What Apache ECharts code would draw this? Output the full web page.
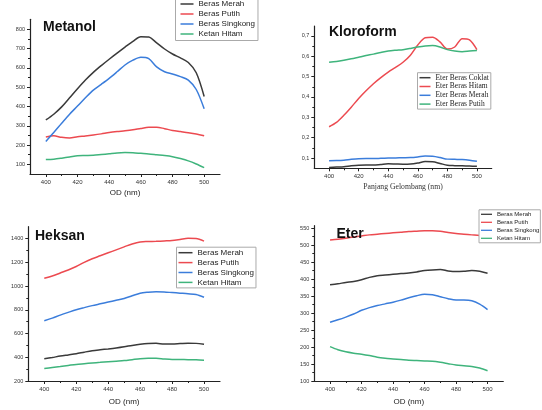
<!DOCTYPE html>
<html><head><meta charset="utf-8">
<script src="https://cdn.jsdelivr.net/npm/echarts@6/dist/echarts.min.js"></script>
<style>html,body{margin:0;padding:0;background:#fff}#c{width:542px;height:410px}</style>
</head><body><div id="c"></div>
<script>
// shared wavelength grid (nm) read every 5 nm
const waveX = [400,405,410,415,420,425,430,435,440,445,450,455,460,465,470,475,480,485,490,495,500];
// ---- Metanol ----
const metMerah    = [330,360,398,445,492,537,577,612,645,677,708,738,762,760,730,698,672,652,628,575,452];
const metPutih    = [242,248,240,237,243,247,252,258,265,270,274,279,286,292,293,285,276,270,264,257,248];
const metSingkong = [219,265,313,360,402,445,485,515,546,580,615,640,655,648,605,580,568,555,537,488,388];
const metKetan    = [125,127,132,138,145,146,147,151,155,159,161,160,157,154,150,146,140,130,118,102,83];
// ---- Kloroform ----
const klCoklat = [0.054,0.056,0.058,0.062,0.065,0.066,0.066,0.069,0.072,0.071,0.070,0.071,0.076,0.083,0.082,0.074,0.065,0.063,0.062,0.061,0.060];
const klHitam  = [0.254,0.275,0.310,0.350,0.392,0.430,0.465,0.495,0.522,0.545,0.570,0.605,0.655,0.690,0.693,0.670,0.635,0.645,0.686,0.680,0.632];
const klMerah  = [0.087,0.088,0.090,0.094,0.097,0.098,0.098,0.099,0.100,0.101,0.102,0.103,0.106,0.110,0.109,0.103,0.095,0.094,0.093,0.090,0.085];
const klPutih  = [0.570,0.574,0.580,0.587,0.595,0.603,0.610,0.618,0.625,0.629,0.632,0.638,0.645,0.650,0.652,0.645,0.632,0.625,0.622,0.625,0.628];
// ---- Heksan ----
const hkMerah    = [387,398,410,420,430,443,455,463,470,478,488,500,510,516,517,512,512,515,518,517,510];
const hkPutih    = [1065,1085,1110,1135,1165,1200,1230,1255,1280,1305,1330,1355,1372,1375,1377,1380,1383,1392,1402,1400,1378];
const hkSingkong = [708,730,755,778,800,818,835,850,865,880,895,918,940,948,952,950,945,940,935,928,905];
const hkKetan    = [306,314,322,331,340,346,352,357,362,367,372,380,388,391,391,386,382,381,380,378,375];
// ---- Eter ----
const etMerah    = [383,386,390,393,398,405,410,412,414,416,418,421,425,427,428,424,422,423,425,423,417];
const etPutih    = [515,517,520,524,527,530,532,534,536,538,540,541,542,542,541,537,534,532,530,528,525];
const etSingkong = [273,280,288,297,308,316,322,327,332,338,345,351,355,354,348,342,338,338,336,326,310];
const etKetan    = [201,192,186,182,179,175,170,167,165,163,161,160,159,158,155,151,147,145,143,138,130];
// ---- ticks ----
const xMajor = [400,420,440,460,480,500];
const xMinor = [410,430,450,470,490];
const metYMajor = [100,200,300,400,500,600,700,800];
const metYMinor = [150,250,350,450,550,650,750];
const klYMajor = [0.1,0.2,0.3,0.4,0.5,0.6,0.7];
const klYMinor = [0.15,0.25,0.35,0.45,0.55,0.65];
const hkYMajor = [200,400,600,800,1000,1200,1400];
const hkYMinor = [300,500,700,900,1100,1300];
const etYMajor = [100,150,200,250,300,350,400,450,500,550];
const etYMinor = [125,175,225,275,325,375,425,475,525];

const C = {black:'#3a3a3a', red:'#ec4a50', blue:'#3b7ddb', green:'#3fb47c'};
const SANS = '"Liberation Sans", Arial, sans-serif';
const SERIF = '"Liberation Serif", "Times New Roman", serif';

const grids = [
  {left:30, top:19.3, width:190, height:154.7},
  {left:314.3, top:26, width:177.4, height:142.3},
  {left:28.3, top:226.7, width:191.7, height:154.3},
  {left:314.3, top:225.7, width:189, height:155.3}
];
const yRanges = [[50,852],[0.05,0.748],[200,1500],[100,557]];
const yMaj = [metYMajor, klYMajor, hkYMajor, etYMajor];
const yMin = [metYMinor, klYMinor, hkYMinor, etYMinor];
const xNames = ['OD (nm)','Panjang Gelombang (nm)','OD (nm)','OD (nm)'];
const xNameGaps = [15,15,16.5,16.5];

const xAxes = [], yAxes = [];
for (let i=0;i<4;i++){
  const nameFont = i===1 ? {fontFamily:SERIF, fontSize:7.7, color:'#333'} : {fontFamily:SANS, fontSize:8, color:'#222'};
  xAxes.push({type:'value', gridIndex:i, position:'bottom', min:390, max:510,
    name:xNames[i], nameLocation:'middle', nameGap:xNameGaps[i], nameTextStyle:nameFont,
    axisLine:{show:true, lineStyle:{color:'#222', width:1.2}},
    axisTick:{show:true, length:3, customValues:xMajor, lineStyle:{color:'#222', width:1}},
    axisLabel:{show:true, customValues:xMajor, margin:5, fontSize:6, fontFamily:SANS, color:'#333'},
    splitLine:{show:false}});
  xAxes.push({type:'value', gridIndex:i, position:'bottom', min:390, max:510,
    axisLine:{show:false},
    axisTick:{show:true, length:2, customValues:xMinor, lineStyle:{color:'#222', width:1}},
    axisLabel:{show:false}, splitLine:{show:false}});
  yAxes.push({type:'value', gridIndex:i, position:'left', min:yRanges[i][0], max:yRanges[i][1],
    axisLine:{show:true, lineStyle:{color:'#222', width:1.2}},
    axisTick:{show:true, length:3, customValues:yMaj[i], lineStyle:{color:'#222', width:1}},
    axisLabel:{show:true, customValues:yMaj[i], margin:5, fontSize:5.5, fontFamily:SANS, color:'#333',
      formatter: i===1 ? (v)=>v.toFixed(1).replace('.', ',') : (v)=>String(Math.round(v))},
    splitLine:{show:false}});
  yAxes.push({type:'value', gridIndex:i, position:'left', min:yRanges[i][0], max:yRanges[i][1],
    axisLine:{show:false},
    axisTick:{show:true, length:2, customValues:yMin[i], lineStyle:{color:'#222', width:1}},
    axisLabel:{show:false}, splitLine:{show:false}});
}

function mk(name, ys, color, idx){
  return {type:'line', name:name, xAxisIndex:2*idx, yAxisIndex:2*idx,
    data: waveX.map((x,k)=>[x, ys[k]]), smooth:0.3, symbol:'none', showSymbol:false,
    lineStyle:{color:color, width:1.5}, itemStyle:{color:color}, silent:true, animation:false};
}
const series = [
  mk('Beras Merah', metMerah, C.black, 0),
  mk('Beras Putih', metPutih, C.red, 0),
  mk('Beras Singkong', metSingkong, C.blue, 0),
  mk('Ketan Hitam', metKetan, C.green, 0),
  mk('Eter Beras Coklat', klCoklat, C.black, 1),
  mk('Eter Beras Hitam', klHitam, C.red, 1),
  mk('Eter Beras Merah', klMerah, C.blue, 1),
  mk('Eter Beras Putih', klPutih, C.green, 1),
  mk('Beras Merah', hkMerah, C.black, 2),
  mk('Beras Putih', hkPutih, C.red, 2),
  mk('Beras Singkong', hkSingkong, C.blue, 2),
  mk('Ketan Hitam', hkKetan, C.green, 2),
  mk('Beras Merah', etMerah, C.black, 3),
  mk('Beras Putih', etPutih, C.red, 3),
  mk('Beras Singkong', etSingkong, C.blue, 3),
  mk('Ketan Hitam', etKetan, C.green, 3)
];

const legBase = {orient:'vertical', backgroundColor:'#fff', borderColor:'#aaa', borderWidth:1,
  selectedMode:false, borderRadius:0, icon:'rect'};
const names4 = ['Beras Merah','Beras Putih','Beras Singkong','Ketan Hitam'];
const legends = [
  Object.assign({}, legBase, {data:names4, left:175.5, top:-2.5, padding:[2,3,2,5], itemWidth:13, itemHeight:1.5, itemGap:1,
    textStyle:{fontFamily:SANS, fontSize:8, lineHeight:9, color:'#222'}}),
  Object.assign({}, legBase, {data:['Eter Beras Coklat','Eter Beras Hitam','Eter Beras Merah','Eter Beras Putih'],
    left:417.5, top:72.7, padding:[1,2,1,2], itemWidth:11, itemHeight:1.5, itemGap:0.8,
    textStyle:{fontFamily:SERIF, fontSize:7.5, lineHeight:8, color:'#222'}}),
  Object.assign({}, legBase, {data:names4, left:176.5, top:247.2, padding:[1,2,1,2], itemWidth:14, itemHeight:1.5, itemGap:0.9,
    textStyle:{fontFamily:SANS, fontSize:8, lineHeight:9, color:'#222'}}),
  Object.assign({}, legBase, {data:names4, left:479, top:209.8, padding:[1,1,1,2], itemWidth:11, itemHeight:1.3, itemGap:1,
    textStyle:{fontFamily:SANS, fontSize:6, lineHeight:7, color:'#222'}})
];

const tStyle = {fontFamily:SANS, fontSize:14, fontWeight:'bold', color:'#111'};
const titles = [
  {text:'Metanol', left:43, top:20, padding:0, textStyle:tStyle},
  {text:'Kloroform', left:329, top:25.5, padding:0, textStyle:tStyle},
  {text:'Heksan', left:35, top:229.5, padding:0, textStyle:tStyle},
  {text:'Eter', left:336.5, top:227, padding:0, textStyle:tStyle, z:10}
];

const chart = echarts.init(document.getElementById('c'), null, {renderer:'canvas'});
chart.setOption({
  animation:false, backgroundColor:'#fff',
  title:titles, legend:legends, grid:grids, xAxis:xAxes, yAxis:yAxes, series:series
});
</script></body></html>
